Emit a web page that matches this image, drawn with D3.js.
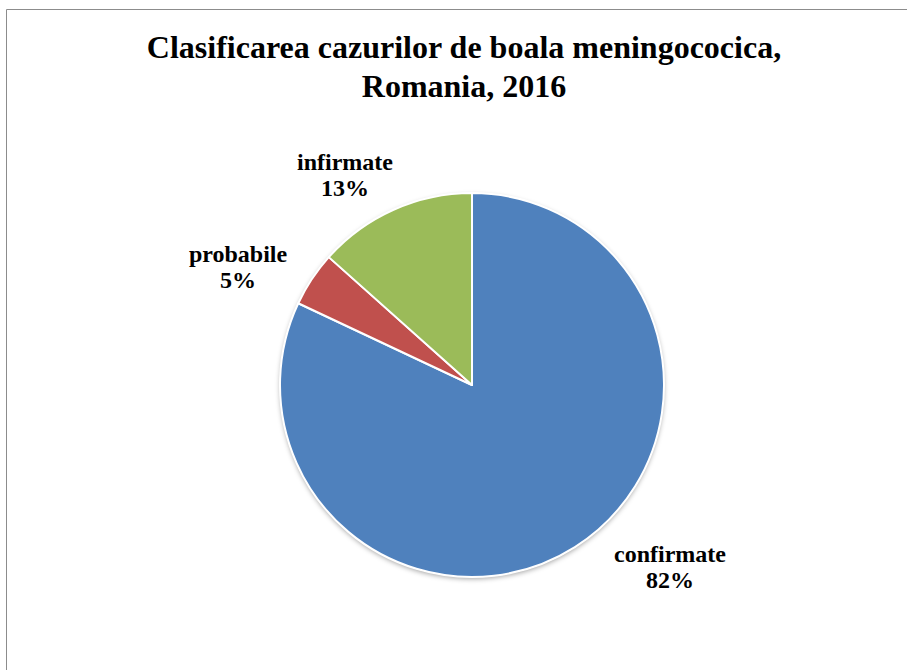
<!DOCTYPE html>
<html>
<head>
<meta charset="utf-8">
<script src="https://cdn.jsdelivr.net/npm/d3@7"></script>
<style>
  body { margin: 0; background: #fff; }
  svg { display: block; }
  text { font-family: "Liberation Serif", "Times New Roman", serif; font-weight: bold; fill: #000; }
</style>
</head>
<body>
<svg id="chart" width="907" height="670"></svg>
<script>
// share of each category and the printed labels
const categories = ["confirmate", "probabile", "infirmate"];
const shares = [82.0, 4.6, 13.4];
const percentLabels = ["82%", "5%", "13%"];
const colors = ["#4F81BD", "#C0504D", "#9BBB59"];
const titleLines = ["Clasificarea cazurilor de boala meningococica,", "Romania, 2016"];

let svg = d3.select("#chart");

// frame of the chart area
svg.append("path")
    .attr("d", "M6.5,670 L6.5,9.5 L907,9.5")
    .attr("fill", "none")
    .attr("stroke", "#8c8c8c")
    .attr("stroke-width", 1);

// title
svg.append("text")
    .attr("text-anchor", "middle")
    .attr("font-size", "32px")
    .selectAll("tspan")
    .data(titleLines)
    .enter()
    .append("tspan")
        .attr("x", 464)
        .attr("y", (d, i) => 58 + i * 39)
        .text(d => d);

// soft shadow under the pie
let defs = svg.append("defs");
let filter = defs.append("filter").attr("id", "shadow")
    .attr("x", "-10%").attr("y", "-10%").attr("width", "120%").attr("height", "120%");
filter.append("feDropShadow")
    .attr("dx", 0).attr("dy", 2).attr("stdDeviation", 2.5)
    .attr("flood-color", "#000").attr("flood-opacity", 0.35);

let cx = 472, cy = 385, radius = 192;

let pie = d3.pie().sort(null).value(d => d.value);
let arc = d3.arc().innerRadius(0).outerRadius(radius);

let dataObj = categories.map((c, i) => ({ name: c, value: shares[i], label: percentLabels[i], color: colors[i] }));
let arcs = pie(dataObj);

let g = svg.append("g").attr("transform", `translate(${cx},${cy})`);

g.append("circle").attr("r", radius).attr("fill", "#fff").attr("filter", "url(#shadow)");

g.selectAll("path.slice")
    .data(arcs)
    .enter()
    .append("path")
        .attr("class", "slice")
        .attr("d", arc)
        .attr("fill", d => d.data.color)
        .attr("stroke", "#fff")
        .attr("stroke-width", 2)
        .attr("stroke-linejoin", "round");

// label positions, outside the slices
let labelPos = { confirmate: [670, 562], probabile: [238, 262], infirmate: [345, 170] };

let labels = svg.selectAll("text.lbl")
    .data(arcs)
    .enter()
    .append("text")
        .attr("class", "lbl")
        .attr("text-anchor", "middle")
        .attr("font-size", "24px");

labels.append("tspan")
    .attr("x", d => labelPos[d.data.name][0])
    .attr("y", d => labelPos[d.data.name][1])
    .text(d => d.data.name);
labels.append("tspan")
    .attr("x", d => labelPos[d.data.name][0])
    .attr("y", d => labelPos[d.data.name][1] + 26)
    .text(d => d.data.label);
</script>
</body>
</html>
